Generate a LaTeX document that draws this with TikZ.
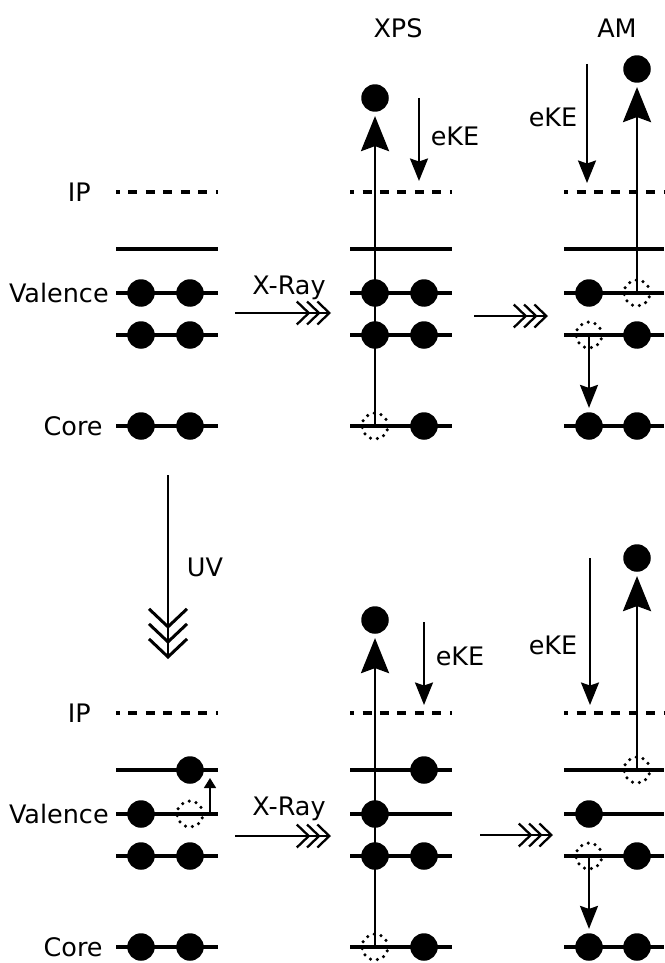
\documentclass[tikz,border=0pt]{standalone}
\usepackage{fontspec}
\setmainfont{DejaVu Sans}
\usetikzlibrary{arrows.meta}

\begin{document}
\begin{tikzpicture}[x=0.02cm, y=-0.02cm,
  level/.style={line width=2pt},
  iplevel/.style={line width=2.2pt, dash pattern=on 0.18cm off 0.17cm, dash phase=0.1cm},
  elec/.style={circle, fill=black, minimum size=0.55cm, inner sep=0pt},
  hole/.style={circle, draw, line width=2pt, line cap=round, dash pattern=on 0pt off 4pt, minimum size=0.52cm, inner sep=0pt},
  lbl/.style={font=\fontsize{14.5}{17}\selectfont, inner sep=0pt},
  ionize/.style={line width=1.6pt, -{Stealth[length=0.7cm,width=0.56cm,inset=0.1cm]}, shorten >=0.08cm},
  kearrow/.style={line width=1.2pt, -{Stealth[length=0.45cm,width=0.36cm,inset=0.06cm]}},
  decay/.style={line width=1.2pt, -{Stealth[length=0.46cm,width=0.36cm,inset=0.06cm]}, shorten >=0.08cm},
  excite/.style={line width=0.9pt, -{Triangle[length=0.2cm,width=0.24cm]}},
  xray/.style={line width=1.3pt, -{Straight Barb[length=0.24cm,width=0.46cm,sep=-0.09cm]Straight Barb[length=0.24cm,width=0.46cm,sep=-0.09cm]Straight Barb[length=0.24cm,width=0.46cm]}},
  uvarrow/.style={line width=1.7pt, -{Straight Barb[length=0.36cm,width=0.76cm,sep=-0.13cm]Straight Barb[length=0.36cm,width=0.76cm,sep=-0.13cm]Straight Barb[length=0.36cm,width=0.76cm]}}
]
  \useasboundingbox (0,0) rectangle (664,963);

  %% Column titles
  \node[lbl] (tXPS) at (398,28) {XPS};
  \node[lbl] (tAM)  at (617,28) {AM};

  %% ---------- Top row: ground state ----------
  \node[lbl, anchor=east] (lIPa)  at (91,192)  {IP};
  \node[lbl, anchor=east] (lVala) at (109,293) {Valence};
  \node[lbl, anchor=east] (lCora) at (103,426) {Core};

  \draw[iplevel] (116,192) -- (218,192);
  \draw[level]   (116,249) -- (218,249);
  \draw[level]   (116,293) -- (218,293);
  \draw[level]   (116,335) -- (218,335);
  \draw[level]   (116,426) -- (218,426);
  \node[elec] (gV1a) at (141,293) {};
  \node[elec] (gV1b) at (190,293) {};
  \node[elec] (gV2a) at (141,335) {};
  \node[elec] (gV2b) at (190,335) {};
  \node[elec] (gCa)  at (141,426) {};
  \node[elec] (gCb)  at (190,426) {};

  %% X-Ray to XPS
  \coordinate (xr1s) at (235,313);
  \coordinate (xr1e) at (331,313);
  \draw[xray] (xr1s) -- (xr1e);
  \node[lbl] (lXr1) at (289,288) {X-Ray};

  %% Top row: XPS
  \draw[iplevel] (350,192) -- (452,192);
  \draw[level]   (350,249) -- (452,249);
  \draw[level]   (350,293) -- (452,293);
  \draw[level]   (350,335) -- (452,335);
  \draw[level]   (350,426) -- (452,426);
  \node[elec] (xV1a) at (375,293) {};
  \node[elec] (xV1b) at (424,293) {};
  \node[elec] (xV2a) at (375,335) {};
  \node[elec] (xV2b) at (424,335) {};
  \node[hole] (xCa)  at (375,426) {};
  \node[elec] (xCb)  at (424,426) {};
  \node[elec] (xOut) at (375,98) {};
  \draw[ionize] (xCa.center) -- (xOut.south);
  \coordinate (xk1) at (419,98);
  \coordinate (xk2) at (419,181);
  \draw[kearrow] (xk1) -- (xk2);
  \node[lbl] (lxk) at (455,136) {eKE};

  %% XPS to AM
  \coordinate (am1s) at (474,316);
  \coordinate (am1e) at (548,316);
  \draw[xray] (am1s) -- (am1e);

  %% Top row: AM
  \draw[iplevel] (564,192) -- (664,192);
  \draw[level]   (564,249) -- (664,249);
  \draw[level]   (564,293) -- (664,293);
  \draw[level]   (564,335) -- (664,335);
  \draw[level]   (564,426) -- (664,426);
  \node[elec] (aV1a) at (589,293) {};
  \node[hole] (aV1b) at (637,293) {};
  \node[hole] (aV2a) at (589,335) {};
  \node[elec] (aV2b) at (637,335) {};
  \node[elec] (aCa)  at (589,426) {};
  \node[elec] (aCb)  at (637,426) {};
  \node[elec] (aOut) at (637,69) {};
  \draw[ionize] (aV1b.center) -- (aOut.south);
  \draw[decay] (aV2a.center) -- (aCa.north);
  \coordinate (ak1) at (587,64);
  \coordinate (ak2) at (587,183);
  \draw[kearrow] (ak1) -- (ak2);
  \node[lbl] (lak) at (553,117) {eKE};

  %% UV excitation
  \coordinate (uvs) at (168,475);
  \coordinate (uve) at (168,659);
  \draw[uvarrow] (uvs) -- (uve);
  \node[lbl] (luv) at (205,567) {UV};

  %% ---------- Bottom row: excited state ----------
  \node[lbl, anchor=east] (lIPb)  at (91,713)  {IP};
  \node[lbl, anchor=east] (lValb) at (109,814) {Valence};
  \node[lbl, anchor=east] (lCorb) at (103,947) {Core};

  \draw[iplevel] (116,713) -- (218,713);
  \draw[level]   (116,770) -- (218,770);
  \draw[level]   (116,814) -- (218,814);
  \draw[level]   (116,856) -- (218,856);
  \draw[level]   (116,947) -- (218,947);
  \node[elec] (eLb)  at (190,770) {};
  \node[elec] (eV1a) at (141,814) {};
  \node[hole] (eV1b) at (190,814) {};
  \node[elec] (eV2a) at (141,856) {};
  \node[elec] (eV2b) at (190,856) {};
  \node[elec] (eCa)  at (141,947) {};
  \node[elec] (eCb)  at (190,947) {};
  \coordinate (ex1) at (210,813);
  \coordinate (ex2) at (210,778);
  \draw[excite] (ex1) -- (ex2);

  %% X-Ray to XPS
  \coordinate (xr2s) at (235,836);
  \coordinate (xr2e) at (331,836);
  \draw[xray] (xr2s) -- (xr2e);
  \node[lbl] (lXr2) at (289,809) {X-Ray};

  %% Bottom row: XPS
  \draw[iplevel] (350,713) -- (452,713);
  \draw[level]   (350,770) -- (452,770);
  \draw[level]   (350,814) -- (452,814);
  \draw[level]   (350,856) -- (452,856);
  \draw[level]   (350,947) -- (452,947);
  \node[elec] (yLb)  at (424,770) {};
  \node[elec] (yV1a) at (375,814) {};
  \node[elec] (yV2a) at (375,856) {};
  \node[elec] (yV2b) at (424,856) {};
  \node[hole] (yCa)  at (375,947) {};
  \node[elec] (yCb)  at (424,947) {};
  \node[elec] (yOut) at (375,620) {};
  \draw[ionize] (yCa.center) -- (yOut.south);
  \coordinate (yk1) at (424,622);
  \coordinate (yk2) at (424,705);
  \draw[kearrow] (yk1) -- (yk2);
  \node[lbl] (lyk) at (460,656) {eKE};

  %% XPS to AM
  \coordinate (am2s) at (480,835);
  \coordinate (am2e) at (553,835);
  \draw[xray] (am2s) -- (am2e);

  %% Bottom row: AM
  \draw[iplevel] (564,713) -- (664,713);
  \draw[level]   (564,770) -- (664,770);
  \draw[level]   (564,814) -- (664,814);
  \draw[level]   (564,856) -- (664,856);
  \draw[level]   (564,947) -- (664,947);
  \node[hole] (bLb)  at (637,770) {};
  \node[elec] (bV1a) at (589,814) {};
  \node[hole] (bV2a) at (589,856) {};
  \node[elec] (bV2b) at (637,856) {};
  \node[elec] (bCa)  at (589,947) {};
  \node[elec] (bCb)  at (637,947) {};
  \node[elec] (bOut) at (637,558) {};
  \draw[ionize] (bLb.center) -- (bOut.south);
  \draw[decay] (bV2a.center) -- (bCa.north);
  \coordinate (bk1) at (590,558);
  \coordinate (bk2) at (590,705);
  \draw[kearrow] (bk1) -- (bk2);
  \node[lbl] (lbk) at (553,645) {eKE};
\end{tikzpicture}
\end{document}
